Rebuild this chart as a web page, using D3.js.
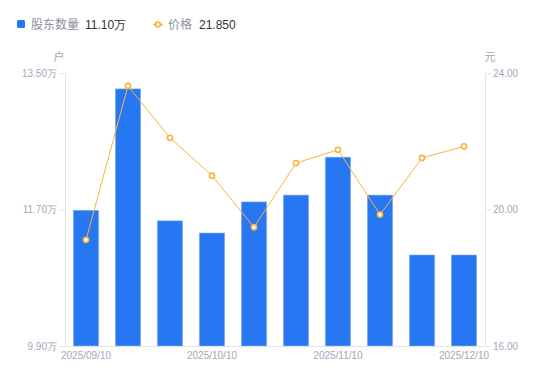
<!DOCTYPE html>
<html><head><meta charset="utf-8">
<script src="https://cdn.jsdelivr.net/npm/d3@7"></script>
<style>
html,body{margin:0;padding:0;background:#fff;}
svg{display:block;font-family:"Noto Sans CJK SC","Noto Sans",sans-serif;}
</style></head>
<body><svg id="c" width="550" height="381"></svg>
<script>
const categories = ["2025/09/10","2025/09/20","2025/09/30","2025/10/10","2025/10/20","2025/10/31","2025/11/10","2025/11/20","2025/11/30","2025/12/10"];
const holders = [11.69, 13.29, 11.55, 11.39, 11.80, 11.89, 12.39, 11.89, 11.10, 11.10];
const prices = [19.11, 23.62, 22.10, 20.99, 19.48, 21.36, 21.75, 19.85, 21.51, 21.85];
const leftTicks = [9.9, 11.7, 13.5];
const rightTicks = [16, 20, 24];
const shownLabels = ["2025/09/10","2025/10/10","2025/11/10","2025/12/10"];

(function(){
const svg = d3.select("#c");
const mLeft = 65, mRight = 485, mTop = 73, mBottom = 346;
const gray = "#a3a6b6", axisCol = "#e3e3e8";

const x = d3.scaleBand().domain(categories).range([mLeft, mRight]).paddingInner(0.4).paddingOuter(0.2);
const yL = d3.scaleLinear().domain([9.9, 13.5]).range([mBottom, mTop]);
const yR = d3.scaleLinear().domain([16, 24]).range([mBottom, mTop]);

// bars
svg.append("g").selectAll("rect").data(holders).join("rect")
  .attr("x", (d,i)=>x(categories[i]))
  .attr("y", d=>yL(d))
  .attr("width", x.bandwidth())
  .attr("height", d=>mBottom - yL(d))
  .attr("fill", "#2777f2")
  .attr("stroke", "#7fadf6").attr("stroke-width", 0.6);

// axes
const axL = svg.append("g").attr("transform", `translate(${mLeft},0)`)
  .call(d3.axisLeft(yL).tickValues(leftTicks).tickSize(6).tickPadding(2).tickFormat(d=>d3.format(".2f")(d)+"万"));
const axR = svg.append("g").attr("transform", `translate(${mRight},0)`)
  .call(d3.axisRight(yR).tickValues(rightTicks).tickSize(6).tickPadding(2).tickFormat(d3.format(".2f")));
const axB = svg.append("g").attr("transform", `translate(0,${mBottom})`)
  .call(d3.axisBottom(x).tickValues(shownLabels).tickSize(0).tickPadding(6));
[axL, axR, axB].forEach(a=>{
  a.select(".domain").attr("stroke", axisCol);
  a.selectAll(".tick line").attr("stroke", axisCol);
  a.selectAll("text").attr("fill", gray).style("font-size","10px").style("font-family","'Liberation Sans',Arial,sans-serif");
});
axB.select(".domain").attr("d", `M${mLeft},0.5H${mRight}`);

// units
svg.append("text").attr("x", 59).attr("y", 61).attr("text-anchor","middle").attr("fill", gray).style("font-size","11px").text("户");
svg.append("text").attr("x", 490).attr("y", 61).attr("text-anchor","middle").attr("fill", gray).style("font-size","11px").text("元");

// line
const lineCol = "#fbb33c";
const line = d3.line().x((d,i)=>x(categories[i]) + x.bandwidth()/2).y(d=>yR(d));
svg.append("path").datum(prices).attr("d", line).attr("fill","none").attr("stroke", lineCol).attr("stroke-width", 1);
svg.append("g").selectAll("circle").data(prices).join("circle")
  .attr("cx", (d,i)=>x(categories[i]) + x.bandwidth()/2)
  .attr("cy", d=>yR(d)).attr("r", 2.6)
  .attr("fill", "#fff").attr("stroke", lineCol).attr("stroke-width", 1.6);

// legend
const lg = svg.append("g");
lg.append("rect").attr("x", 17).attr("y", 20).attr("width", 8).attr("height", 8).attr("rx", 1.5).attr("fill", "#2777f2");
lg.append("text").attr("x", 31).attr("y", 29).attr("fill", "#8d90a0").style("font-size","12px").text("股东数量");
lg.append("text").attr("x", 85).attr("y", 29).attr("fill", "#333").style("font-size","12px").style("font-family","'Liberation Sans',Arial,sans-serif").text(d3.format(".2f")(holders[holders.length-1])+"万");
lg.append("line").attr("x1", 153).attr("x2", 163).attr("y1", 24.5).attr("y2", 24.5).attr("stroke", lineCol).attr("stroke-width", 1.5);
lg.append("circle").attr("cx", 158).attr("cy", 24.5).attr("r", 2.4).attr("fill", "#fff").attr("stroke", lineCol).attr("stroke-width", 1.6);
lg.append("text").attr("x", 168).attr("y", 29).attr("fill", "#8d90a0").style("font-size","12px").text("价格");
lg.append("text").attr("x", 199).attr("y", 29).attr("fill", "#333").style("font-size","12px").style("font-family","'Liberation Sans',Arial,sans-serif").text(d3.format(".3f")(prices[prices.length-1]));
})();
</script></body></html>
